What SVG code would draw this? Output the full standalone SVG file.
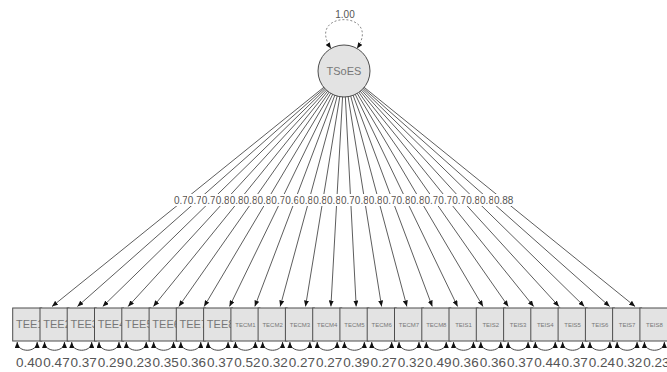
<svg xmlns="http://www.w3.org/2000/svg" width="667" height="372" viewBox="0 0 667 372">
<defs>
<style>
.bg{fill:#ffffff}
.edge{stroke:#333;stroke-width:0.8;fill:none;marker-end:url(#ah)}
.res{stroke:#333;stroke-width:0.9;fill:none;marker-start:url(#ah);marker-end:url(#ah)}
.loop{stroke:#888;stroke-width:1;stroke-dasharray:2,2;fill:none;marker-start:url(#ah);marker-end:url(#ah)}
.lb rect{fill:#fff}
.lb text,.rv text,.vl{font-family:"Liberation Sans",Arial,sans-serif;fill:#555;text-anchor:middle}
.lb text{font-size:10px}
.rv text{font-size:13.5px}
.vl{font-size:10px}
.node rect,.node circle{fill:#e3e3e3;stroke:#4d4d4d;stroke-width:1}
.node text{font-family:"Liberation Sans",Arial,sans-serif;font-size:11px;fill:#777;text-anchor:middle}
.node text.s{font-size:6px}
</style>
<marker id="ah" viewBox="0 0 6 5" refX="6" refY="2.5" markerWidth="6" markerHeight="5" markerUnits="userSpaceOnUse" orient="auto-start-reverse">
<path d="M0,0 L6,2.5 L0,5 z" fill="#111"/>
</marker>
</defs>
<rect class="bg" x="0" y="0" width="667" height="372"/>
<g id="connectors">
<path class="loop" d="M331,48.5 C305,10 383,10 357,48.5"/>
<text class="vl" x="345" y="18">1.00</text>
<line class="edge" x1="344" y1="71" x2="52.0" y2="306.5"/>
<line class="edge" x1="344" y1="71" x2="77.4" y2="306.5"/>
<line class="edge" x1="344" y1="71" x2="102.7" y2="306.5"/>
<line class="edge" x1="344" y1="71" x2="128.1" y2="306.5"/>
<line class="edge" x1="344" y1="71" x2="153.4" y2="306.5"/>
<line class="edge" x1="344" y1="71" x2="178.8" y2="306.5"/>
<line class="edge" x1="344" y1="71" x2="204.1" y2="306.5"/>
<line class="edge" x1="344" y1="71" x2="229.5" y2="306.5"/>
<line class="edge" x1="344" y1="71" x2="254.8" y2="306.5"/>
<line class="edge" x1="344" y1="71" x2="280.2" y2="306.5"/>
<line class="edge" x1="344" y1="71" x2="305.5" y2="306.5"/>
<line class="edge" x1="344" y1="71" x2="330.9" y2="306.5"/>
<line class="edge" x1="344" y1="71" x2="356.2" y2="306.5"/>
<line class="edge" x1="344" y1="71" x2="381.6" y2="306.5"/>
<line class="edge" x1="344" y1="71" x2="406.9" y2="306.5"/>
<line class="edge" x1="344" y1="71" x2="432.3" y2="306.5"/>
<line class="edge" x1="344" y1="71" x2="457.6" y2="306.5"/>
<line class="edge" x1="344" y1="71" x2="483.0" y2="306.5"/>
<line class="edge" x1="344" y1="71" x2="508.3" y2="306.5"/>
<line class="edge" x1="344" y1="71" x2="533.7" y2="306.5"/>
<line class="edge" x1="344" y1="71" x2="559.0" y2="306.5"/>
<line class="edge" x1="344" y1="71" x2="584.4" y2="306.5"/>
<line class="edge" x1="344" y1="71" x2="609.7" y2="306.5"/>
<line class="edge" x1="344" y1="71" x2="635.1" y2="306.5"/>
<g class="lb">
<rect x="173.2" y="194" width="21" height="12"/><text x="183.7" y="204">0.77</text>
<rect x="187.1" y="194" width="21" height="12"/><text x="197.6" y="204">0.73</text>
<rect x="201.0" y="194" width="21" height="12"/><text x="211.5" y="204">0.79</text>
<rect x="214.9" y="194" width="21" height="12"/><text x="225.4" y="204">0.84</text>
<rect x="228.9" y="194" width="21" height="12"/><text x="239.4" y="204">0.88</text>
<rect x="242.8" y="194" width="21" height="12"/><text x="253.3" y="204">0.81</text>
<rect x="256.7" y="194" width="21" height="12"/><text x="267.2" y="204">0.80</text>
<rect x="270.6" y="194" width="21" height="12"/><text x="281.1" y="204">0.79</text>
<rect x="284.5" y="194" width="21" height="12"/><text x="295.0" y="204">0.69</text>
<rect x="298.4" y="194" width="21" height="12"/><text x="308.9" y="204">0.82</text>
<rect x="312.4" y="194" width="21" height="12"/><text x="322.9" y="204">0.85</text>
<rect x="326.3" y="194" width="21" height="12"/><text x="336.8" y="204">0.85</text>
<rect x="340.2" y="194" width="21" height="12"/><text x="350.7" y="204">0.78</text>
<rect x="354.1" y="194" width="21" height="12"/><text x="364.6" y="204">0.85</text>
<rect x="368.0" y="194" width="21" height="12"/><text x="378.5" y="204">0.82</text>
<rect x="381.9" y="194" width="21" height="12"/><text x="392.4" y="204">0.71</text>
<rect x="395.8" y="194" width="21" height="12"/><text x="406.3" y="204">0.80</text>
<rect x="409.8" y="194" width="21" height="12"/><text x="420.3" y="204">0.80</text>
<rect x="423.7" y="194" width="21" height="12"/><text x="434.2" y="204">0.79</text>
<rect x="437.6" y="194" width="21" height="12"/><text x="448.1" y="204">0.75</text>
<rect x="451.5" y="194" width="21" height="12"/><text x="462.0" y="204">0.79</text>
<rect x="465.4" y="194" width="21" height="12"/><text x="475.9" y="204">0.87</text>
<rect x="479.3" y="194" width="21" height="12"/><text x="489.8" y="204">0.82</text>
<rect x="493.2" y="194" width="21" height="12"/><text x="503.7" y="204">0.88</text>
</g>
<path class="res" d="M17.2,342 C17.2,353 37.2,353 37.2,342"/>
<path class="res" d="M44.5,342 C44.5,353 64.5,353 64.5,342"/>
<path class="res" d="M71.7,342 C71.7,353 91.7,353 91.7,342"/>
<path class="res" d="M99.0,342 C99.0,353 119.0,353 119.0,342"/>
<path class="res" d="M126.3,342 C126.3,353 146.3,353 146.3,342"/>
<path class="res" d="M153.6,342 C153.6,353 173.6,353 173.6,342"/>
<path class="res" d="M180.8,342 C180.8,353 200.8,353 200.8,342"/>
<path class="res" d="M208.1,342 C208.1,353 228.1,353 228.1,342"/>
<path class="res" d="M235.4,342 C235.4,353 255.4,353 255.4,342"/>
<path class="res" d="M262.6,342 C262.6,353 282.6,353 282.6,342"/>
<path class="res" d="M289.9,342 C289.9,353 309.9,353 309.9,342"/>
<path class="res" d="M317.2,342 C317.2,353 337.2,353 337.2,342"/>
<path class="res" d="M344.4,342 C344.4,353 364.4,353 364.4,342"/>
<path class="res" d="M371.7,342 C371.7,353 391.7,353 391.7,342"/>
<path class="res" d="M399.0,342 C399.0,353 419.0,353 419.0,342"/>
<path class="res" d="M426.3,342 C426.3,353 446.3,353 446.3,342"/>
<path class="res" d="M453.5,342 C453.5,353 473.5,353 473.5,342"/>
<path class="res" d="M480.8,342 C480.8,353 500.8,353 500.8,342"/>
<path class="res" d="M508.1,342 C508.1,353 528.1,353 528.1,342"/>
<path class="res" d="M535.3,342 C535.3,353 555.3,353 555.3,342"/>
<path class="res" d="M562.6,342 C562.6,353 582.6,353 582.6,342"/>
<path class="res" d="M589.9,342 C589.9,353 609.9,353 609.9,342"/>
<path class="res" d="M617.1,342 C617.1,353 637.1,353 637.1,342"/>
<path class="res" d="M644.4,342 C644.4,353 664.4,353 664.4,342"/>
<g class="rv">
<text x="29.2" y="367">0.40</text>
<text x="56.5" y="367">0.47</text>
<text x="83.7" y="367">0.37</text>
<text x="111.0" y="367">0.29</text>
<text x="138.3" y="367">0.23</text>
<text x="165.6" y="367">0.35</text>
<text x="192.8" y="367">0.36</text>
<text x="220.1" y="367">0.37</text>
<text x="247.4" y="367">0.52</text>
<text x="274.6" y="367">0.32</text>
<text x="301.9" y="367">0.27</text>
<text x="329.2" y="367">0.27</text>
<text x="356.4" y="367">0.39</text>
<text x="383.7" y="367">0.27</text>
<text x="411.0" y="367">0.32</text>
<text x="438.3" y="367">0.49</text>
<text x="465.5" y="367">0.36</text>
<text x="492.8" y="367">0.36</text>
<text x="520.1" y="367">0.37</text>
<text x="547.3" y="367">0.44</text>
<text x="574.6" y="367">0.37</text>
<text x="601.9" y="367">0.24</text>
<text x="629.1" y="367">0.32</text>
<text x="656.4" y="367">0.23</text>
</g>
</g>
<g id="TSoES" class="node"><circle cx="344" cy="71" r="26"/><text x="344" y="75">TSoES</text></g>
<g id="TEE1" class="node"><rect x="12.7" y="308" width="29" height="33"/><text x="29.7" y="328">TEE1</text></g>
<g id="TEE2" class="node"><rect x="40.0" y="308" width="29" height="33"/><text x="57.0" y="328">TEE2</text></g>
<g id="TEE3" class="node"><rect x="67.2" y="308" width="29" height="33"/><text x="84.2" y="328">TEE3</text></g>
<g id="TEE4" class="node"><rect x="94.5" y="308" width="29" height="33"/><text x="111.5" y="328">TEE4</text></g>
<g id="TEE5" class="node"><rect x="121.8" y="308" width="29" height="33"/><text x="138.8" y="328">TEE5</text></g>
<g id="TEE6" class="node"><rect x="149.1" y="308" width="29" height="33"/><text x="166.1" y="328">TEE6</text></g>
<g id="TEE7" class="node"><rect x="176.3" y="308" width="29" height="33"/><text x="193.3" y="328">TEE7</text></g>
<g id="TEE8" class="node"><rect x="203.6" y="308" width="29" height="33"/><text x="220.6" y="328">TEE8</text></g>
<g id="TECM1" class="node"><rect x="230.9" y="308" width="29" height="33"/><text class="s" x="245.4" y="327">TECM1</text></g>
<g id="TECM2" class="node"><rect x="258.1" y="308" width="29" height="33"/><text class="s" x="272.6" y="327">TECM2</text></g>
<g id="TECM3" class="node"><rect x="285.4" y="308" width="29" height="33"/><text class="s" x="299.9" y="327">TECM3</text></g>
<g id="TECM4" class="node"><rect x="312.7" y="308" width="29" height="33"/><text class="s" x="327.2" y="327">TECM4</text></g>
<g id="TECM5" class="node"><rect x="339.9" y="308" width="29" height="33"/><text class="s" x="354.4" y="327">TECM5</text></g>
<g id="TECM6" class="node"><rect x="367.2" y="308" width="29" height="33"/><text class="s" x="381.7" y="327">TECM6</text></g>
<g id="TECM7" class="node"><rect x="394.5" y="308" width="29" height="33"/><text class="s" x="409.0" y="327">TECM7</text></g>
<g id="TECM8" class="node"><rect x="421.8" y="308" width="29" height="33"/><text class="s" x="436.3" y="327">TECM8</text></g>
<g id="TEIS1" class="node"><rect x="449.0" y="308" width="29" height="33"/><text class="s" x="463.5" y="327">TEIS1</text></g>
<g id="TEIS2" class="node"><rect x="476.3" y="308" width="29" height="33"/><text class="s" x="490.8" y="327">TEIS2</text></g>
<g id="TEIS3" class="node"><rect x="503.6" y="308" width="29" height="33"/><text class="s" x="518.1" y="327">TEIS3</text></g>
<g id="TEIS4" class="node"><rect x="530.8" y="308" width="29" height="33"/><text class="s" x="545.3" y="327">TEIS4</text></g>
<g id="TEIS5" class="node"><rect x="558.1" y="308" width="29" height="33"/><text class="s" x="572.6" y="327">TEIS5</text></g>
<g id="TEIS6" class="node"><rect x="585.4" y="308" width="29" height="33"/><text class="s" x="599.9" y="327">TEIS6</text></g>
<g id="TEIS7" class="node"><rect x="612.6" y="308" width="29" height="33"/><text class="s" x="627.1" y="327">TEIS7</text></g>
<g id="TEIS8" class="node"><rect x="639.9" y="308" width="29" height="33"/><text class="s" x="654.4" y="327">TEIS8</text></g>
</svg>
